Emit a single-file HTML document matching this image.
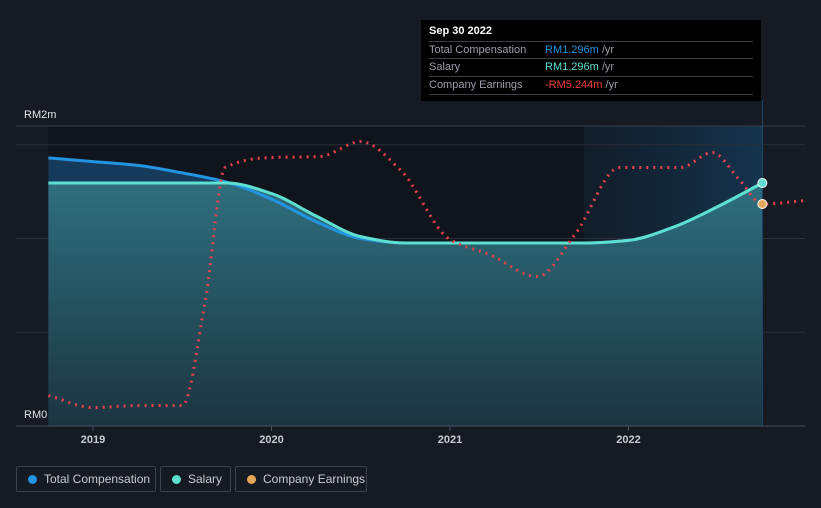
<!DOCTYPE html>
<html><head><meta charset="utf-8"><style>
html,body{margin:0;padding:0;background:#151a23;}
body{width:821px;height:508px;overflow:hidden;position:relative;font-family:"Liberation Sans",sans-serif;}
svg{position:absolute;left:0;top:0;}
.tip{position:absolute;left:421px;top:20px;width:340px;height:81px;background:#000;box-sizing:border-box;padding:0 8px;}
.tip .t{color:#fff;font-size:11px;font-weight:bold;position:absolute;left:8px;top:5px;}
.row{position:absolute;left:8px;width:324px;height:17px;border-top:1px solid #3a3f47;font-size:11px;line-height:17px;color:#9aa0a8;}
.row span.v{position:absolute;left:116px;}
.leg{position:absolute;top:466px;height:26px;border:1px solid #3c424c;border-radius:2px;box-sizing:border-box;color:#c8ccd2;font-size:12px;line-height:24px;padding-left:27px;}
.leg i{position:absolute;left:11px;top:8px;width:9px;height:9px;border-radius:50%;}
</style></head><body>
<svg width="821" height="508">
<defs>
<linearGradient id="fg" x1="0" y1="0" x2="0" y2="1"><stop offset="0" stop-color="#2f6f7e"/><stop offset="1" stop-color="#1c3440"/></linearGradient>
<linearGradient id="hl" x1="0" y1="0" x2="1" y2="0"><stop offset="0" stop-color="#1a4a70" stop-opacity="0.15"/><stop offset="1" stop-color="#1a5a8a" stop-opacity="0.45"/></linearGradient>
</defs>
<g id="g"></g>
</svg>
<div class="tip">
<div class="t">Sep 30 2022</div>
<div class="row" style="top:21px">Total Compensation<span class="v"><span style="color:#2394e0">RM1.296m</span> /yr</span></div>
<div class="row" style="top:38px">Salary<span class="v"><span style="color:#5ee0d0">RM1.296m</span> /yr</span></div>
<div class="row" style="top:56px;border-bottom:1px solid #3a3f47">Company Earnings<span class="v"><span style="color:#ee3f3f">-RM5.244m</span> /yr</span></div>
</div>
<div class="leg" style="left:16px;width:140px"><i style="background:#2394e0"></i>Total Compensation</div>
<div class="leg" style="left:160px;width:71px"><i style="background:#5ee0d0"></i>Salary</div>
<div class="leg" style="left:235px;width:132px"><i style="background:#e8a85a"></i>Company Earnings</div>
<script>
const compTimes=[2018.75,2019.0,2019.25,2019.5,2019.75,2020.0,2020.25,2020.5,2020.75,2021.0,2021.25,2021.5,2021.75,2022.0,2022.25,2022.5,2022.75];
const totalComp=[1.43,1.41,1.39,1.35,1.30,1.21,1.09,1.00,0.976,0.976,0.976,0.976,0.976,0.99,1.06,1.17,1.296];
const salary=[1.296,1.296,1.296,1.296,1.296,1.24,1.12,1.01,0.976,0.976,0.976,0.976,0.976,0.99,1.06,1.17,1.296];
const earnTimes=[2018.75,2019.0,2019.26,2019.5,2019.63,2019.74,2019.99,2020.27,2020.5,2020.72,2021.0,2021.22,2021.49,2021.7,2021.95,2022.29,2022.47,2022.62,2022.75,2022.99];
const earnings=[-24.4,-25.6,-25.4,-25.4,-14.8,-1.6,-0.6,-0.5,1.0,-1.8,-8.8,-10.3,-12.5,-8.3,-1.6,-1.6,-0.1,-2.8,-5.244,-4.9];
const yearTicks=[2019,2020,2021,2022];
const yLabels=["RM0","RM2m"];
const gridVals=[0.5,1.0,1.5];
const X=t=>93+(t-2019)*178.5;
const Y=v=>426-v*187.5;
const YE=v=>204-(v+5.244)*10;
const NS="http://www.w3.org/2000/svg";
const g=document.getElementById('g');
function mk(tag,attrs,name){const e=document.createElementNS(NS,tag);for(const k in attrs)e.setAttribute(k,attrs[k]);


g.appendChild(e);return e;}
function path(pts){const n=pts.length;const dx=[],s=[];
for(let i=0;i<n-1;i++){dx.push(pts[i+1][0]-pts[i][0]);s.push((pts[i+1][1]-pts[i][1])/dx[i]);}
const m=[s[0]];for(let i=1;i<n-1;i++){m.push(s[i-1]*s[i]<=0?0:(3*(dx[i-1]+dx[i]))/((2*dx[i]+dx[i-1])/s[i-1]+(dx[i]+2*dx[i-1])/s[i]));}m.push(s[n-2]);
let d='M'+pts[0][0]+','+pts[0][1];
for(let i=0;i<n-1;i++){const h=dx[i]/3;d+=' C'+(pts[i][0]+h)+','+(pts[i][1]+m[i]*h)+' '+(pts[i+1][0]-h)+','+(pts[i+1][1]-m[i+1]*h)+' '+pts[i+1][0]+','+pts[i+1][1];}return d;}
const x0=X(compTimes[0]),x1=X(compTimes[compTimes.length-1]);
mk('rect',{x:x0,y:126,width:x1-x0,height:300,fill:'#10151d'},'plot-background');
mk('rect',{x:X(2021.75),y:126,width:x1-X(2021.75),height:300,fill:'url(#hl)'},'highlight-region');
mk('line',{x1:16,x2:805,y1:126,y2:126,stroke:'#3a3f47'},'grid-top');
gridVals.forEach(v=>mk('line',{x1:16,x2:805,y1:Y(v),y2:Y(v),stroke:'#2a2f38'},'grid-line'));
const tp=compTimes.map((t,i)=>[X(t),Y(totalComp[i])]);
const sp=compTimes.map((t,i)=>[X(t),Y(salary[i])]);
mk('path',{d:path(tp)+' L'+x1+',426 L'+x0+',426 Z',fill:'#163a5c'},'total-comp-area');
mk('path',{d:path(sp)+' L'+x1+',426 L'+x0+',426 Z',fill:'url(#fg)'},'salary-area');
mk('path',{d:path(tp),fill:'none',stroke:'#2394e0','stroke-width':3},'total-comp-line');
mk('path',{d:path(sp),fill:'none',stroke:'#5ee0d0','stroke-width':3},'salary-line');
const ep=earnTimes.map((t,i)=>[X(t),YE(earnings[i])]);
mk('path',{d:path(ep),fill:'none',stroke:'#e8424a','stroke-width':3,'stroke-dasharray':'2 5','stroke-linecap':'butt'},'earnings-line');
mk('line',{x1:x1,x2:x1,y1:100,y2:426,stroke:'#1e4d70'},'cursor-line');
mk('line',{x1:16,x2:805,y1:426,y2:426,stroke:'#4a4f58'},'x-axis');
yearTicks.forEach(yr=>{mk('line',{x1:X(yr),x2:X(yr),y1:426,y2:431,stroke:'#4a4f58'},'x-tick');
const t=mk('text',{x:X(yr),y:443,fill:'#c8ccd2','font-size':11,'text-anchor':'middle','font-weight':'bold'},'x-tick-label');t.textContent=yr;});
const l0=mk('text',{x:24,y:418,fill:'#e0e3e8','font-size':11},'y-label-min');l0.textContent=yLabels[0];
const l1=mk('text',{x:24,y:118,fill:'#e0e3e8','font-size':11},'y-label-max');l1.textContent=yLabels[1];
const n=compTimes.length-1;
mk('circle',{cx:x1,cy:Y(salary[n]),r:4.5,fill:'#5ee0d0',stroke:'#fff','stroke-width':1},'salary-marker');
mk('circle',{cx:x1,cy:YE(earnings[18]),r:4.5,fill:'#e8a85a',stroke:'#fff','stroke-width':1},'earnings-marker');
</script>
</body></html>
